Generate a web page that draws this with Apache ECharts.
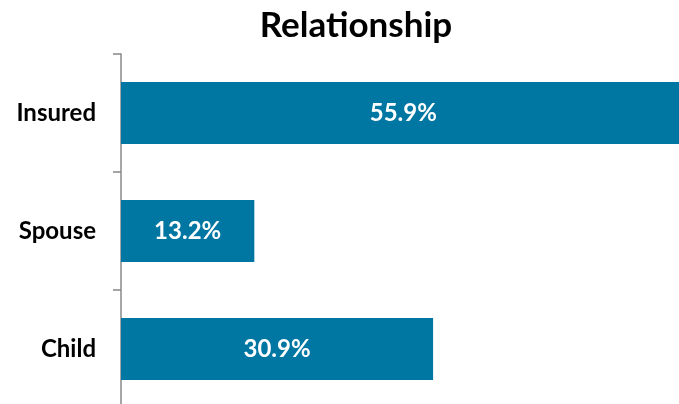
<!DOCTYPE html>
<html>
<head>
<meta charset="utf-8">
<script src="https://cdn.jsdelivr.net/npm/echarts@6/dist/echarts.min.js"></script>
<style>
  html, body { margin: 0; padding: 0; background: #fff; }
  #chart { width: 679px; height: 404px; }
</style>
</head>
<body>
<div id="chart"></div>
<script>
// relationship shares
var categories = ['Insured', 'Spouse', 'Child'];
var shares = [55.9, 13.2, 30.9];

var chart = echarts.init(document.getElementById('chart'));
chart.setOption({
  animation: false,
  textStyle: { fontFamily: 'Lato' },
  title: {
    text: 'Relationship',
    left: 351,
    textAlign: 'center',
    top: 3,
    textStyle: { fontFamily: 'Lato', fontWeight: 'bold', fontSize: 35, color: '#000' }
  },
  grid: { left: 121, top: 54, width: 606, height: 354, containLabel: false, outerBoundsMode: 'none' },
  xAxis: {
    type: 'value',
    min: 0,
    max: 60,
    show: false
  },
  yAxis: {
    type: 'category',
    data: categories,
    inverse: true,
    axisLine: { show: true, lineStyle: { color: '#888888', width: 1.5 } },
    axisTick: { show: true, length: 8, lineStyle: { color: '#888888', width: 1.5 } },
    axisLabel: { margin: 25, color: '#000', fontFamily: 'Lato', fontWeight: 'bold', fontSize: 24 }
  },
  series: [{
    type: 'bar',
    data: shares,
    barWidth: 62,
    clip: false,
    itemStyle: { color: '#0077A3' },
    label: {
      show: true,
      position: 'inside',
      color: '#fff',
      fontFamily: 'Lato',
      fontWeight: 'bold',
      fontSize: 24,
      formatter: function (p) { return p.value.toFixed(1) + '%'; }
    }
  }]
});
</script>
</body>
</html>
